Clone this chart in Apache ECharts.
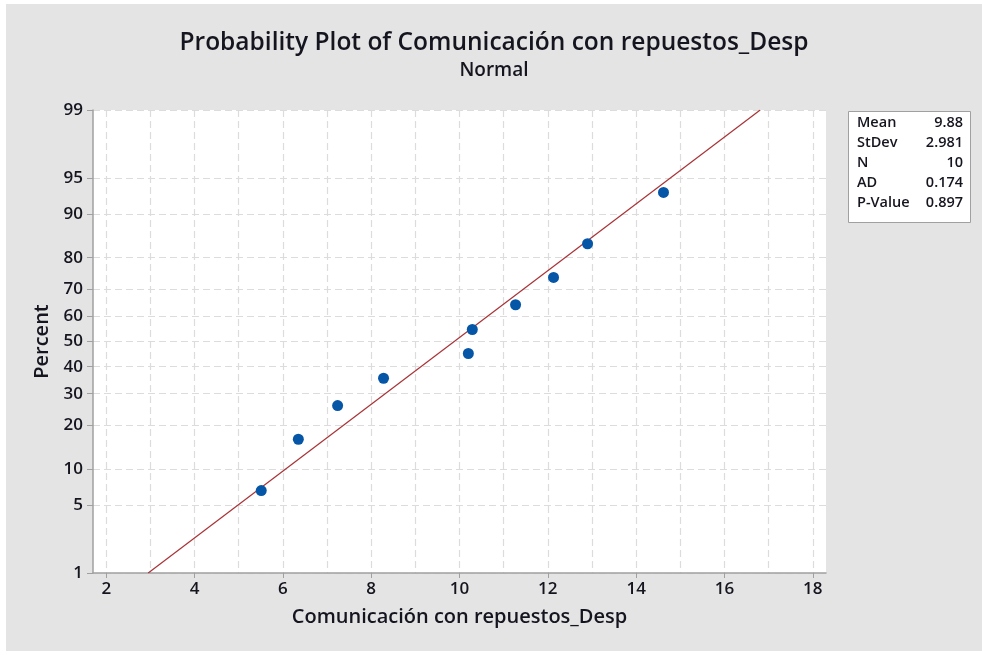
<!DOCTYPE html>
<html>
<head>
<meta charset="utf-8">
<title>Probability Plot</title>
<script src="https://cdn.jsdelivr.net/npm/echarts@6/dist/echarts.min.js"></script>
<style>
  html, body { margin: 0; padding: 0; background: #ffffff; }
  #chart { position: absolute; left: 6px; top: 4px; width: 976px; height: 647px; background: #e4e4e4; }
</style>
</head>
<body>
<div id="chart"></div>
<script>
// sample values (x) and their plotted percent positions
var sampleX = [5.51, 6.35, 7.24, 8.28, 10.20, 10.29, 11.27, 12.13, 12.90, 14.62]
var samplePct = [6.7, 16.3, 26.0, 35.6, 45.2, 54.8, 64.4, 74.0, 83.7, 93.3]

// fitted normal line end points
var fitX = [2.95, 16.81]
var fitPct = [1, 99]

// axis ticks
var xTicks = [2, 4, 6, 8, 10, 12, 14, 16, 18]
var xGrid = [2, 3, 4, 5, 6, 7, 8, 9, 10, 11, 12, 13, 14, 15, 16, 17, 18]
var pctTicks = [1, 5, 10, 20, 30, 40, 50, 60, 70, 80, 90, 95, 99]

// stats box
var statNames = ['Mean', 'StDev', 'N', 'AD', 'P-Value']
var statValues = ['9.88', '2.981', '10', '0.174', '0.897']

var FONT = '"Open Sans", "Noto Sans", sans-serif'
var INK = '#15151f'

// inverse standard normal cdf (Acklam), used as the axis transform
function probit(p) {
  var a = [-39.69683028665376, 220.9460984245205, -275.9285104469687, 138.3577518672690, -30.66479806614716, 2.506628277459239]
  var b = [-54.47609879822406, 161.5858368580409, -155.6989798598866, 66.80131188771972, -13.28068155288572]
  var c = [-0.007784894002430293, -0.3223964580411365, -2.400758277161838, -2.549732539343734, 4.374664141464968, 2.938163982698783]
  var d = [0.007784695709041462, 0.3224671290700398, 2.445134137142996, 3.754408661907416]
  var pl = 0.02425
  var q, r
  if (p < pl) {
    q = Math.sqrt(-2 * Math.log(p))
    return (((((c[0] * q + c[1]) * q + c[2]) * q + c[3]) * q + c[4]) * q + c[5]) / ((((d[0] * q + d[1]) * q + d[2]) * q + d[3]) * q + 1)
  }
  if (p <= 1 - pl) {
    q = p - 0.5
    r = q * q
    return (((((a[0] * r + a[1]) * r + a[2]) * r + a[3]) * r + a[4]) * r + a[5]) * q / (((((b[0] * r + b[1]) * r + b[2]) * r + b[3]) * r + b[4]) * r + 1)
  }
  q = Math.sqrt(-2 * Math.log(1 - p))
  return -(((((c[0] * q + c[1]) * q + c[2]) * q + c[3]) * q + c[4]) * q + c[5]) / ((((d[0] * q + d[1]) * q + d[2]) * q + d[3]) * q + 1)
}
function pctToZ(v) { return probit(v / 100) }
function zToPct(z) {
  // find the tick whose transform matches
  var best = pctTicks[0]
  pctTicks.forEach(function(p) {
    if (Math.abs(pctToZ(p) - z) < Math.abs(pctToZ(best) - z)) best = p
  })
  return best
}

var zTicks = pctTicks.map(pctToZ)
var points = sampleX.map(function(x, i) { return [x, pctToZ(samplePct[i])] })
var fitLine = fitX.map(function(x, i) { return [x, pctToZ(fitPct[i])] })

var chart = echarts.init(document.getElementById('chart'))

var statTexts = []
statNames.forEach(function(name, i) {
  statTexts.push({
    type: 'text', left: 851, top: 111 + i * 20.2,
    style: { text: name, font: '600 14.5px ' + FONT, fill: INK }
  })
  statTexts.push({
    type: 'text', right: 976 - 957, top: 111 + i * 20.2,
    style: { text: statValues[i], font: '600 14.5px ' + FONT, fill: INK, textAlign: 'right' }
  })
})

chart.setOption({
  backgroundColor: '#e4e4e4',
  animation: false,
  grid: {
    left: 87, top: 106, right: 156, bottom: 78,
    show: true, backgroundColor: '#ffffff', borderWidth: 0
  },
  xAxis: [
    {
      type: 'value', min: 1.7, max: 18.3,
      name: 'Comunicación con repuestos_Desp',
      nameLocation: 'middle', nameGap: 34,
      nameTextStyle: { fontFamily: FONT, fontSize: 20, color: INK, fontWeight: 600 },
      axisLine: { show: true, onZero: false, lineStyle: { color: '#a0a0a0', width: 1.5 } },
      axisTick: { show: true, length: 5, customValues: xTicks, lineStyle: { color: '#a0a0a0' } },
      axisLabel: { customValues: xTicks, margin: 8, fontFamily: FONT, fontSize: 17, color: INK, fontWeight: 600 },
      splitLine: { show: false }
    },
    {
      type: 'value', min: 1.7, max: 18.3, position: 'bottom',
      axisLine: { show: false },
      axisTick: { show: false, customValues: xGrid },
      axisLabel: { show: false },
      splitLine: { show: true, lineStyle: { color: '#dcdcdc', type: [7, 4], width: 1.2 } }
    }
  ],
  yAxis: {
    type: 'value', min: pctToZ(1), max: pctToZ(99),
    name: 'Percent',
    nameLocation: 'middle', nameGap: 38,
    nameTextStyle: { fontFamily: FONT, fontSize: 20, color: INK, fontWeight: 600 },
    axisLine: { show: true, onZero: false, lineStyle: { color: '#a0a0a0', width: 1.5 } },
    axisTick: { show: true, length: 6, customValues: zTicks, lineStyle: { color: '#a0a0a0' } },
    axisLabel: {
      customValues: zTicks, margin: 10, fontFamily: FONT, fontSize: 17, color: INK, fontWeight: 600,
      formatter: function(v) { return String(zToPct(v)) }
    },
    splitLine: { show: true, lineStyle: { color: '#dcdcdc', type: [7, 4], width: 1.2 } }
  },
  series: [
    {
      type: 'line', data: fitLine, symbol: 'none',
      lineStyle: { color: '#a83236', width: 1.2 }, z: 3
    },
    {
      type: 'scatter', data: points, symbol: 'circle', symbolSize: 11,
      itemStyle: { color: '#0656a8', opacity: 1 }, z: 4
    }
  ],
  graphic: [
    {
      type: 'text', left: 'center', top: 27,
      style: { text: 'Probability Plot of Comunicación con repuestos_Desp', font: '600 24.5px ' + FONT, fill: INK }
    },
    {
      type: 'text', left: 'center', top: 57,
      style: { text: 'Normal', font: '600 19px ' + FONT, fill: INK }
    },
    {
      type: 'rect', left: 842, top: 107,
      shape: { width: 122, height: 111 },
      style: { fill: '#ffffff', stroke: '#a0a0a0', lineWidth: 1 }
    }
  ].concat(statTexts)
})
</script>
</body>
</html>
